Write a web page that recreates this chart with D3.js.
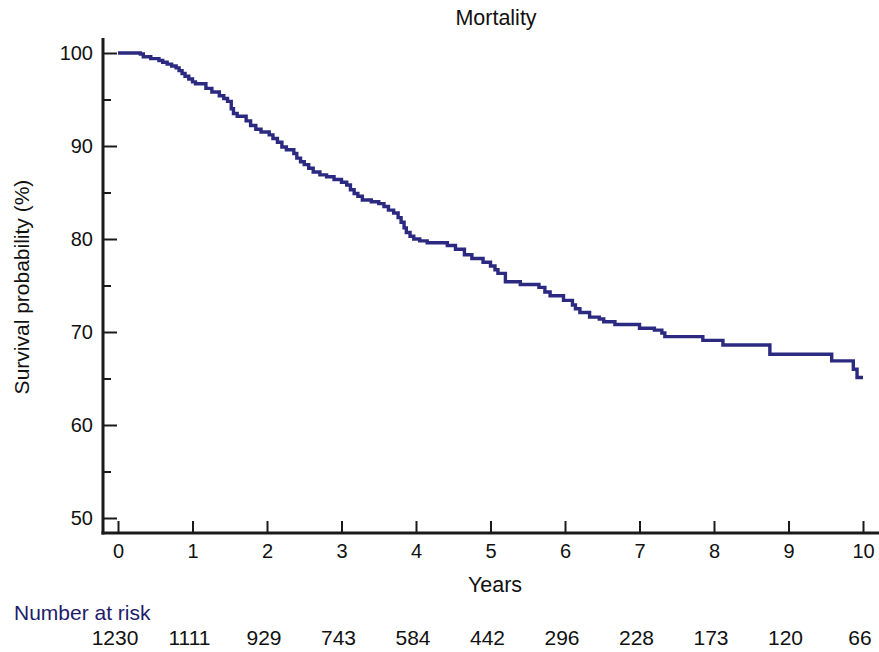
<!DOCTYPE html>
<html>
<head>
<meta charset="utf-8">
<script src="https://cdn.jsdelivr.net/npm/d3@7"></script>
<style>
  body { margin: 0; background: #fff; }
  text { font-family: "Liberation Sans", Arial, sans-serif; fill: #111; }
</style>
</head>
<body>
<div id="chart"></div>
<script>
// Kaplan-Meier steps: time (years) where survival drops to the given value (%)
const stepTimes = [0, 0.30, 0.34, 0.44, 0.55, 0.60, 0.66, 0.72, 0.78, 0.82, 0.86, 0.90, 0.95, 1.00,
  1.04, 1.18, 1.26, 1.36, 1.42, 1.47, 1.52, 1.55, 1.60, 1.72, 1.78, 1.85, 1.92, 2.03, 2.08, 2.14,
  2.20, 2.26, 2.36, 2.40, 2.45, 2.50, 2.56, 2.62, 2.71, 2.80, 2.90, 3.00, 3.07, 3.12, 3.17, 3.22,
  3.28, 3.40, 3.50, 3.57, 3.63, 3.70, 3.76, 3.80, 3.84, 3.87, 3.92, 3.97, 4.05, 4.15, 4.42, 4.53,
  4.65, 4.75, 4.90, 5.00, 5.06, 5.10, 5.20, 5.40, 5.65, 5.73, 5.80, 5.98, 6.10, 6.14, 6.20, 6.33,
  6.46, 6.52, 6.67, 7.00, 7.20, 7.30, 7.34, 7.85, 8.12, 8.75, 9.58, 9.87, 9.92, 10.0];
const survival = [100, 99.9, 99.6, 99.4, 99.2, 99.0, 98.8, 98.6, 98.4, 98.1, 97.8, 97.5, 97.2, 96.9,
  96.7, 96.2, 95.8, 95.4, 95.1, 94.8, 94.0, 93.5, 93.2, 92.7, 92.2, 91.8, 91.5, 91.2, 90.8, 90.4,
  89.9, 89.6, 89.2, 88.7, 88.3, 88.0, 87.6, 87.2, 86.9, 86.7, 86.4, 86.1, 85.8, 85.3, 84.9, 84.6,
  84.2, 84.0, 83.8, 83.5, 83.1, 82.8, 82.3, 81.8, 81.2, 80.7, 80.3, 80.0, 79.8, 79.6, 79.3, 78.9,
  78.3, 77.9, 77.5, 77.1, 76.7, 76.3, 75.4, 75.1, 74.8, 74.3, 73.9, 73.4, 72.9, 72.5, 72.1, 71.6,
  71.4, 71.1, 70.8, 70.4, 70.2, 69.9, 69.5, 69.1, 68.6, 67.6, 66.9, 66.0, 65.1, 65.1];

const yearTicks = [0, 1, 2, 3, 4, 5, 6, 7, 8, 9, 10];
const atRisk = [1230, 1111, 929, 743, 584, 442, 296, 228, 173, 120, 66];
const yMajor = [50, 60, 70, 80, 90, 100];
const yMinor = [55, 65, 75, 85, 95];

const width = 879, height = 652;
const axisX = 103, axisY = 533, axisTop = 38;

const svg = d3.select("#chart").append("svg")
  .attr("width", width)
  .attr("height", height);

const x = d3.scaleLinear().domain([0, 10]).range([118, 863]);
const y = d3.scaleLinear().domain([50, 100]).range([518, 53]);

// axis frame lines
svg.append("line")
  .attr("x1", axisX).attr("x2", axisX).attr("y1", axisTop).attr("y2", axisY + 1.5)
  .attr("stroke", "#1a1a1a").attr("stroke-width", 3);
svg.append("line")
  .attr("x1", axisX - 1.5).attr("x2", width).attr("y1", axisY).attr("y2", axisY)
  .attr("stroke", "#1a1a1a").attr("stroke-width", 3);

// y axis ticks
const yAxis = svg.append("g")
  .attr("transform", `translate(${axisX},0)`)
  .call(d3.axisLeft(y).tickValues(yMajor).tickSize(-14).tickPadding(10));
yAxis.select(".domain").remove();
yAxis.selectAll("line").attr("stroke", "#1a1a1a").attr("stroke-width", 2);
yAxis.selectAll("text").attr("font-size", 20).attr("fill", "#111")
  .attr("font-family", "Liberation Sans, Arial, sans-serif");

const yAxisMinor = svg.append("g")
  .attr("transform", `translate(${axisX},0)`)
  .call(d3.axisLeft(y).tickValues(yMinor).tickSize(-8).tickFormat(""));
yAxisMinor.select(".domain").remove();
yAxisMinor.selectAll("line").attr("stroke", "#1a1a1a").attr("stroke-width", 2);

// x axis ticks
const xAxis = svg.append("g")
  .attr("transform", `translate(0,${axisY})`)
  .call(d3.axisBottom(x).tickValues(yearTicks).tickSize(-12).tickPadding(11));
xAxis.select(".domain").remove();
xAxis.selectAll("line").attr("stroke", "#1a1a1a").attr("stroke-width", 2);
xAxis.selectAll("text").attr("font-size", 20).attr("fill", "#111")
  .attr("font-family", "Liberation Sans, Arial, sans-serif");

// survival curve
const points = stepTimes.map((t, i) => [t, survival[i]]);
const line = d3.line()
  .x(d => x(d[0]))
  .y(d => y(d[1]))
  .curve(d3.curveStepAfter);

svg.append("path")
  .datum(points)
  .attr("d", line)
  .attr("fill", "none")
  .attr("stroke", "#2b2a80")
  .attr("stroke-width", 3.4);

// titles
svg.append("text")
  .attr("x", 496).attr("y", 25)
  .attr("text-anchor", "middle")
  .attr("font-size", 21.5)
  .text("Mortality");

svg.append("text")
  .attr("x", 495).attr("y", 592)
  .attr("text-anchor", "middle")
  .attr("font-size", 21.5)
  .text("Years");

svg.append("text")
  .attr("transform", "translate(29,287) rotate(-90)")
  .attr("text-anchor", "middle")
  .attr("font-size", 21)
  .text("Survival probability (%)");

// number at risk
svg.append("text")
  .attr("x", 14).attr("y", 620)
  .attr("font-size", 21)
  .style("fill", "#1e1b6b")
  .text("Number at risk");

svg.selectAll(".risk")
  .data(atRisk)
  .join("text")
  .attr("class", "risk")
  .attr("x", (d, i) => x(yearTicks[i]) - 3)
  .attr("y", 645)
  .attr("text-anchor", "middle")
  .attr("font-size", 21)
  .style("font-family", "'Liberation Sans Narrow', 'Arial Narrow', 'Liberation Sans', sans-serif")
  .text(d => d);
</script>
</body>
</html>
